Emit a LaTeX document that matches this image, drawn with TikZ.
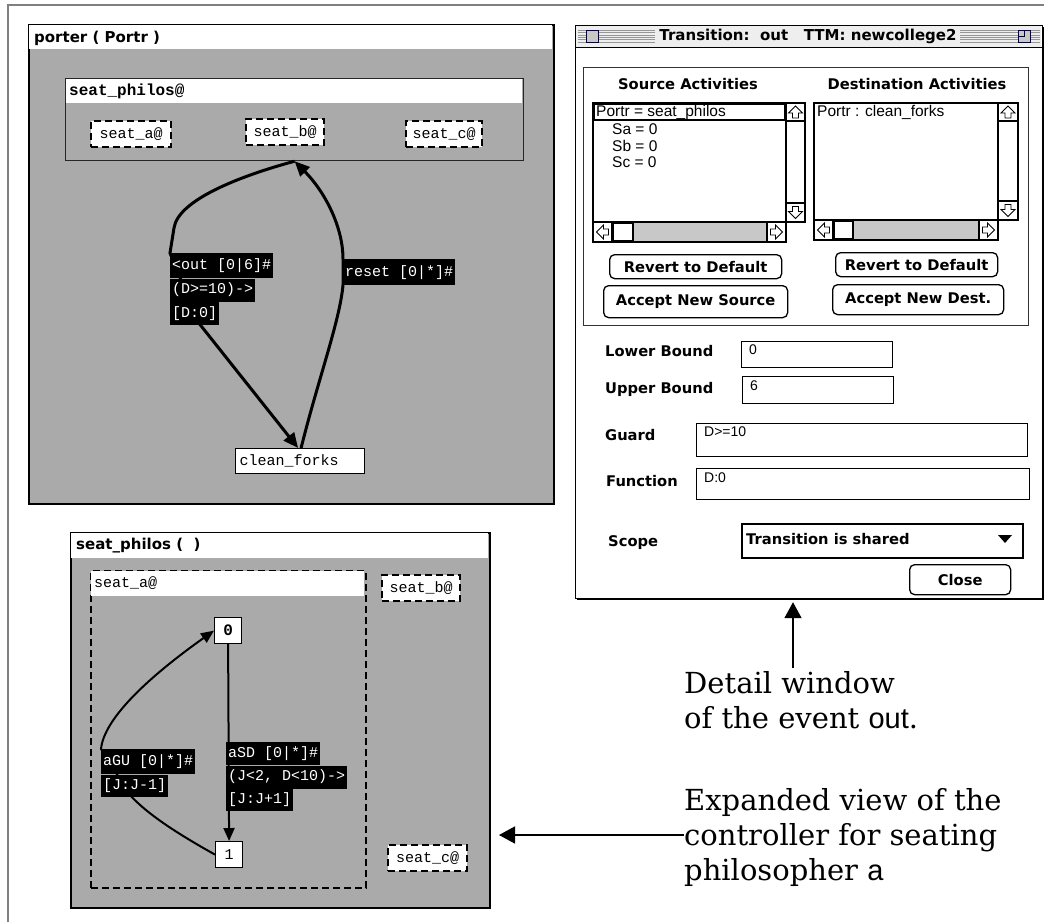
\documentclass[tikz,border=0pt]{standalone}
\usepackage{fontspec}
\usetikzlibrary{arrows.meta}
\newfontfamily\uifamily{DejaVu Sans}
\newfontfamily\courfamily{Liberation Mono}
\newfontfamily\genevafamily{Liberation Sans}
\newfontfamily\captfamily{DejaVu Serif}
\newcommand\uititle{\uifamily\bfseries\fontsize{15}{18}\selectfont}
\newcommand\uilabel{\uifamily\bfseries\fontsize{14.7}{17}\selectfont}
\newcommand\courlab{\courfamily\fontsize{15}{18}\selectfont}
\newcommand\courbold{\courfamily\bfseries\fontsize{16}{19}\selectfont}
\newcommand\genlab{\genevafamily\fontsize{15.5}{17}\selectfont}
\newcommand\fieldlab{\genevafamily\fontsize{14}{16}\selectfont}
\newcommand\captfont{\captfamily\fontsize{29}{35}\selectfont}
\newcommand\captsans{\genevafamily}
\definecolor{wingray}{RGB}{170,170,170}
\definecolor{framegray}{RGB}{128,128,128}
\definecolor{stripegray}{RGB}{150,150,150}
\definecolor{trackgray}{RGB}{200,200,200}
\definecolor{barback}{RGB}{238,238,238}
\begin{document}
\begin{tikzpicture}[x=1pt, y=-1pt,
  sized/.style 2 args={minimum width=#1, minimum height=#2, anchor=north west, inner sep=0pt},
  win/.style={draw=black, line width=2pt, fill=wingray},
  dashbox/.style={draw=black, line width=2.2pt, dash pattern=on 7pt off 4pt, font=\courlab},
  lblk/.style={fill=black, text=white, font=\courlab, inner xsep=2pt, inner ysep=0pt, minimum height=23pt, anchor=north west},
  state/.style={draw=black, line width=1.2pt, fill=white},
  thickarc/.style={line width=3pt, -{Triangle[length=15pt,width=13pt]}},
  thinarc/.style={line width=2pt, -{Triangle[length=13pt,width=11pt]}},
  uitext/.style={anchor=west, inner sep=0pt, font=\uilabel},
  field/.style={draw=black, line width=1.2pt, fill=white},
  listtext/.style={anchor=west, inner sep=0pt, font=\genlab},
  fieldtext/.style={anchor=west, inner sep=0pt, font=\fieldlab},
  btn/.style={draw=black, line width=1.3pt, rounded corners=5pt, fill=white, font=\uilabel},
  callout/.style={line width=1.6pt, -{Triangle[length=16pt,width=17pt]}},
  capt/.style={font=\captfont, align=left, inner sep=0pt, anchor=north west},
  sarrow/.pic={\draw[line width=0.9pt, fill=white] (0,-6) -- (7,1) -- (3,1) -- (3,6) -- (-3,6) -- (-3,1) -- (-7,1) -- cycle;}
]
\useasboundingbox (0,0) rectangle (1044,922);
\fill[white] (0,0) rectangle (1044,922);
% page frame
\draw[framegray, line width=1.2pt] (8,922) -- (8,5) -- (1044,5);

% ---------------- porter window ----------------
\node[win, sized={525}{479}] (pw) at (28,24) {};
\fill[white] (29,25) rectangle (552,49);
\node[anchor=west, font=\uititle, inner sep=0pt] (pwtitle) at (34,38) {porter ( Portr )};

\node[draw=black!85, line width=1.2pt, fill=wingray, sized={458}{82}] (sp) at (65,78) {};
\fill[white] (65.6,78.6) rectangle (522.4,103);
\node[anchor=west, font=\courbold, inner sep=0pt] (sptitle) at (69,91) {seat\_philos@};
\node[dashbox, fill=white, sized={80}{26}] (sa) at (90,120) {seat\_a@};
\node[dashbox, fill=white, sized={78}{26}] (sb) at (245,118) {seat\_b@};
\node[dashbox, fill=white, sized={76}{26}] (sc) at (405,120) {seat\_c@};

\node[state, sized={129}{25}, font=\courlab, text width=121pt, inner xsep=4pt, align=left] (cf) at (235,448) {clean\_forks};

\coordinate (outlab) at (170,253);
\coordinate (outexit) at (198,322);
\coordinate (rstlab) at (343,259);
\coordinate (rstin) at (343,285);
\draw[thickarc] (sp.south) .. controls (240,176) and (178,200) .. (174,228) -- (outlab) -- (outexit) -- ([xshift=-2pt]cf.north);
\draw[thickarc] ([xshift=1pt]cf.north) .. controls (318,380) and (340,320) .. (rstin) -- (rstlab) .. controls (343,228) and (326,193) .. (sp.south);

\node[lblk, minimum height=25pt] (o1) at (outlab) {<out [0|6]\#};
\node[lblk] (o2) at (o1.south west) {(D>=10)->};
\node[lblk] (o3) at (o2.south west) {[D:0]};
\node[lblk, minimum height=26pt] (r1) at (rstlab) {reset [0|*]\#};

% ---------------- seat_philos window ----------------
\node[win, sized={419}{375}] (sw) at (70,532) {};
\fill[white] (71,533) rectangle (488,558);
\node[anchor=west, font=\uititle, inner sep=0pt] (swtitle) at (76,546) {seat\_philos (\ \ )};

\node[dashbox, fill=wingray, sized={275}{317}] (sa2) at (90,570) {};
\fill[white] (91.1,571.1) rectangle (363.9,596);
\node[anchor=west, font=\courlab, inner sep=0pt] (sa2title) at (94,583) {seat\_a@};
\node[dashbox, fill=white, sized={78}{26}] (sb2) at (381,574) {seat\_b@};
\node[dashbox, fill=white, sized={79}{26}] (sc2) at (387,844) {seat\_c@};

\node[state, sized={27}{26}, font=\courbold] (n0) at (214,617) {0};
\node[state, sized={27}{26}, font=\courlab] (n1) at (215,841) {1};

\coordinate (gulab) at (101,749);
\coordinate (guin) at (130,795);
\draw[thinarc] (n1.west) .. controls (180,835) and (148,815) .. (guin) -- (gulab) .. controls (104,718) and (150,676) .. (n0.west);
\draw[thinarc] (n0.south) -- (n1.north);

\node[lblk, minimum height=25pt] (g1) at (gulab) {aGU [0|*]\#};
\node[lblk, minimum height=22pt] (g2) at (g1.south west) {[J:J-1]};
\node[lblk] (s1) at (226,742) {aSD [0|*]\#};
\node[lblk] (s2) at (s1.south west) {(J<2, D<10)->};
\node[lblk, minimum height=22pt] (s3) at (s2.south west) {[J:J+1]};

% ---------------- transition detail window ----------------
\node[draw=black, line width=1.2pt, fill=white, sized={467}{573}] (rw) at (575,25) {};
\draw[line width=2.4pt] (577,599) -- (1043,599) -- (1043,27);
\fill[barback] (575.6,25.6) rectangle (1041.4,47);
\draw[line width=1pt] (575,47) -- (1042,47);
\foreach \k in {0,...,5} {
  \draw[stripegray, line width=0.8pt] (578,30.5+2.3*\k) -- (655,30.5+2.3*\k);
  \draw[stripegray, line width=0.8pt] (960,30.5+2.3*\k) -- (1040,30.5+2.3*\k);
}
\draw[fill=trackgray, draw=blue!35!black, line width=1pt] (586,30) rectangle (598,42);
\draw[fill=trackgray, draw=blue!35!black, line width=1pt] (1018,30) rectangle (1030,42);
\draw[draw=blue!35!black, line width=0.8pt] (1018,36) -- (1024,36) -- (1024,30);
\node[font=\uititle, inner sep=1pt, fill=barback] (rwtitle) at (808,36) {Transition:\ \ out\ \ \ TTM: newcollege2};

\draw[black!80, line width=1pt] (583,67) rectangle (1028,325);
\node[font=\uilabel, inner sep=0pt] (srch) at (688,84) {Source Activities};
\node[font=\uilabel, inner sep=0pt] (dsth) at (917,84) {Destination Activities};

% source list with its scroll bars
\draw[line width=1.2pt, fill=white] (593,103) -- (805,103) -- (805,222) -- (786,222) -- (786,242) -- (593,242) -- cycle;
\fill[trackgray] (633,222) rectangle (767,242);
\draw[line width=1.2pt] (786,103) -- (786,222) (593,222) -- (786,222) (786,121) -- (805,121) (786,203) -- (805,203) (612,222) -- (612,242) (767,222) -- (767,242) (593,242) -- (786,242);
\draw[line width=2pt, fill=white] (613,223) rectangle (633,241);
\pic at (795.5,112) {sarrow};
\pic[rotate=180] at (795.5,212.5) {sarrow};
\pic[rotate=90] at (602.5,232) {sarrow};
\pic[rotate=-90] at (776.5,232) {sarrow};
\draw[line width=1.6pt] (594,104) rectangle (785,120);
\node[listtext] (src0) at (596,112) {Portr = seat\_philos};
\node[listtext] (src1) at (612,129) {Sa = 0};
\node[listtext] (src2) at (612,146) {Sb = 0};
\node[listtext] (src3) at (612,162) {Sc = 0};

% destination list with its scroll bars
\draw[line width=1.2pt, fill=white] (814,103) -- (1018,103) -- (1018,220) -- (998,220) -- (998,240) -- (814,240) -- cycle;
\fill[trackgray] (853,220) rectangle (979,240);
\draw[line width=1.2pt] (998,103) -- (998,220) (814,220) -- (998,220) (998,121) -- (1018,121) (998,201) -- (1018,201) (833,220) -- (833,240) (979,220) -- (979,240) (814,240) -- (998,240);
\draw[line width=2pt, fill=white] (834,221) rectangle (853,239);
\pic at (1008,112) {sarrow};
\pic[rotate=180] at (1008,210.5) {sarrow};
\pic[rotate=90] at (823.5,230) {sarrow};
\pic[rotate=-90] at (988.5,230) {sarrow};
\node[listtext] (dst0) at (817,112) {Portr : clean\_forks};

% buttons
\node[btn, sized={172}{24}] (b1) at (609,254) {Revert to Default};
\node[btn, sized={184}{32}] (b2) at (603,285) {Accept New Source};
\node[btn, sized={162}{24}] (b3) at (835,252) {Revert to Default};
\node[btn, sized={171}{30}] (b4) at (832,284) {Accept New Dest.};

% bounds, guard, function, scope
\node[uitext] (lbl) at (605,351) {Lower Bound};
\node[field, sized={151}{26}] (lbf) at (741,341) {};
\node[fieldtext] (lbv) at (749,350) {0};
\node[uitext] (ubl) at (605,389) {Upper Bound};
\node[field, sized={151}{27}] (ubf) at (742,376) {};
\node[fieldtext] (ubv) at (750,386) {6};
\node[uitext] (gdl) at (605,435) {Guard};
\node[field, sized={331}{33}] (gdf) at (696,423) {};
\node[fieldtext] (gdv) at (704,432) {D>=10};
\node[uitext] (fnl) at (606,481) {Function};
\node[field, sized={333}{31}] (fnf) at (696,468) {};
\node[fieldtext] (fnv) at (704,478) {D:0};
\node[uitext] (scl) at (608,543) {Scope};
\node[field, line width=1.5pt, sized={281}{34}] (scf) at (741,523) {};
\node[uitext] (scv) at (746,539) {Transition is shared};
\fill (998,535) -- (1012,535) -- (1005,543) -- cycle;
\node[btn, sized={101}{30}] (cls) at (909,564) {Close};

% ---------------- explanatory captions ----------------
\node[capt] (cap1) at (684,671) {Detail window\\of the event {\captsans out}.};
\coordinate (a1s) at (793,668);
\draw[callout, shorten >=3pt] (a1s) -- (a1s |- rw.south);

\node[capt] (cap2) at (684,788) {Expanded view of the\\controller for seating\\philosopher {\captsans a}};
\coordinate (a2s) at (684,835);
\draw[callout, shorten >=8pt] (a2s) -- (a2s -| sw.east);
\end{tikzpicture}
\end{document}
